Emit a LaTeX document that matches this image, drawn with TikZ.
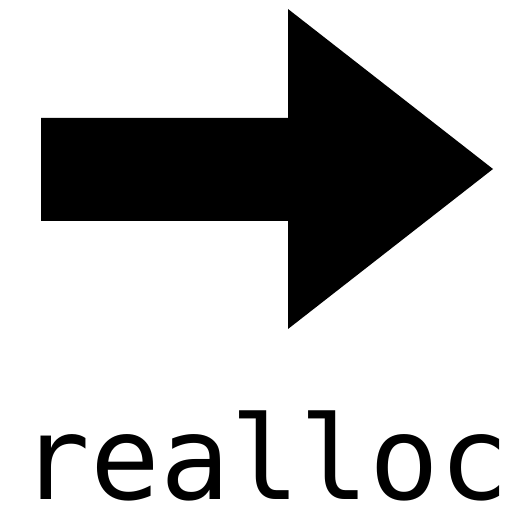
\documentclass[tikz,border=0pt]{standalone}
\usepackage{fontspec}
\usepackage{tikz}
\usetikzlibrary{positioning, calc}
\newfontfamily\codefont{DejaVu Sans Mono}
\definecolor{mydark}{RGB}{0,0,0}
\tikzset{
  bigarrow/.style={fill=mydark, draw=none},
  codelabel/.style={font=\codefont\fontsize{116}{116}\selectfont, inner sep=0pt,
    text depth=0pt, text=mydark}
}

\begin{document}
\begin{tikzpicture}[x=1pt, y=1pt]
    \useasboundingbox (0,0) rectangle (513,514);
    \fill[bigarrow] (41,396) -- (288,396) -- (288,505) -- (493,345) -- (288,185) -- (288,293) -- (41,293) -- cycle;
    \node[codelabel, anchor=base] (reallocname) at (265,14) {realloc};
  \end{tikzpicture}
\end{document}
